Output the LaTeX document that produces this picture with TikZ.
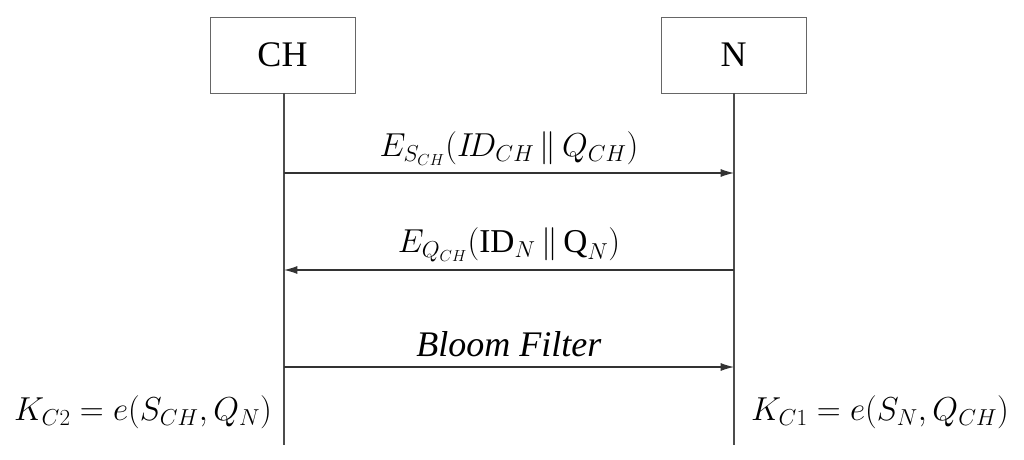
\documentclass[tikz,border=0pt]{standalone}
\usepackage{fontspec}
\setmainfont{Liberation Serif}
\usetikzlibrary{arrows.meta}
\begin{document}
\begin{tikzpicture}[x=0.75pt,y=-0.75pt,
  box/.style={draw=black!60,line width=0.6pt,minimum width=145*0.75pt,minimum height=76*0.75pt,inner sep=0pt,font=\fontsize{27}{30}\selectfont},
  life/.style={draw=black!70,line width=0.8pt},
  msg/.style={draw=black!80,line width=0.8pt,-{Latex[length=10pt,width=6pt]}},
  lab/.style={font=\fontsize{25}{30}\selectfont}]
\useasboundingbox (0,0) rectangle (1024,460);
\node[box] (ch) at (282.5,55) {CH};
\node[box] (n) at (733.5,55) {N};
\coordinate (che) at (284,445);
\coordinate (ne) at (734,445);
\draw[life] (284,93) -- (che);
\draw[life] (734,93) -- (ne);
\coordinate (a1) at (284,173); \coordinate (b1) at (734,173);
\coordinate (a2) at (284,270); \coordinate (b2) at (734,270);
\coordinate (a3) at (284,367); \coordinate (b3) at (734,367);
\draw[msg] (a1) -- node[lab,above=2pt] {$E_{S_{CH}}(I\!D_{CH}\,\|\,Q_{CH})$} (b1);
\draw[msg] (b2) -- node[lab,above=2pt] {$E_{Q_{CH}}(\textrm{ID}_N\,\|\,\textrm{Q}_N)$} (a2);
\draw[msg] (a3) -- node[lab,above=4pt,font=\fontsize{27}{30}\selectfont] {\textit{Bloom Filter}} (b3);
\node[lab] (k2) at (143,412) {$K_{C2}=e(S_{CH},Q_N)$};
\node[lab] (k1) at (880,412) {$K_{C1}=e(S_N,Q_{CH})$};
\end{tikzpicture}
\end{document}
